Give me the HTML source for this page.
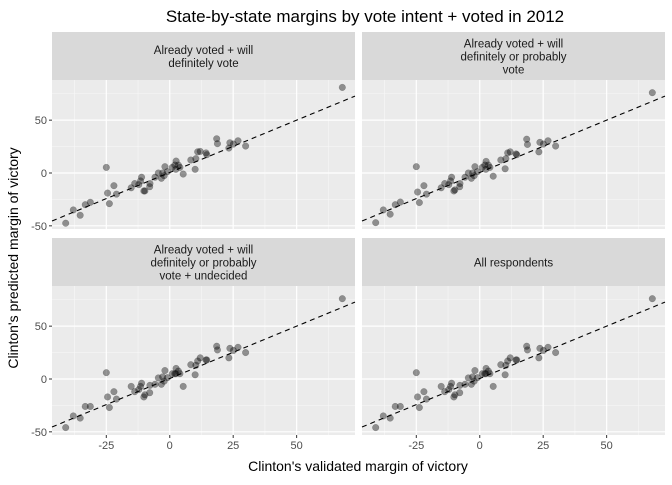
<!DOCTYPE html>
<html><head><meta charset="utf-8"><style>
body{margin:0;background:#fff;font-family:"Liberation Sans",sans-serif}
svg text{font-family:"Liberation Sans",sans-serif}
</style></head><body>
<svg id="c" width="672" height="480" xmlns="http://www.w3.org/2000/svg">
<text x="365" y="22" font-size="17" text-anchor="middle" fill="#000">State-by-state margins by vote intent + voted in 2012</text>
<text x="358" y="471" font-size="14" text-anchor="middle" fill="#000">Clinton's validated margin of victory</text>
<text transform="translate(18,258) rotate(-90)" font-size="14" text-anchor="middle" fill="#000">Clinton's predicted margin of victory</text>
</svg>
<script>
const xVals=[-41,-38,-35.3,-33.3,-31.3,-25,-24.5,-23.8,-22,-21,-15.2,-13.8,-12.2,-11.5,-11.1,-10.2,-9.8,-7.9,-7.8,-5.8,-4.5,-3.3,-2.8,-2.2,-1.9,-0.9,1,2,2.5,2.4,3.4,4,5.3,8.3,10,10.3,11,12,14.3,14.6,18.5,18.8,23.3,23.7,25.1,26.9,29.9,68];
const yDefinite=[-47.5,-35,-40,-30,-27.7,5.3,-19,-29,-12,-20,-14,-10,-11,-7.5,-4,-17,-17,-13,-10,-4,0,-5,0,-2.5,6,1.3,5.3,7.5,11.3,3.5,7.5,5.3,-1,12.3,3.5,13.5,20,20.4,19,17.3,32.4,27.7,23.6,28.6,27.4,30.5,25.5,81];
const yProbable=[-47,-35,-39,-30,-27.5,6,-18,-28,-12,-20,-14,-10,-11,-7.5,-4,-17,-16,-13,-10,-4,0,-5,0,-2.5,6,1.3,5.3,7.5,11,3.5,7.5,5.3,-3,12.3,4,13.5,19,20,18,17.3,32,27,20,29,27.4,30.5,25.5,76];
const yUndecided=[-46,-35,-37,-26,-26,6,-17,-27,-12,-19,-7,-12,-10,-7,-4,-17,-15,-13,-6,-5,1,-5,2,-2,8,1.3,5,5,10,5,7.5,5,-7,13.5,4,13,17,20,18,18,31,27.5,20,29,27,30,25,76];
const yAll=[-46,-35,-37,-26,-26,6,-17,-27,-12,-19,-7,-12,-10,-7,-4,-17,-15,-13,-6,-5,1,-5,2,-2,8,1.3,5,5,10,5,7.5,5,-7,13.5,4,13,17,20,18,18,31,27.5,20,29,27,30,25,76];
const xTicks=[-25,0,25,50];
const yTicks=[-50,0,50];
const xMinor=[-37.5,-12.5,12.5,37.5,62.5];
const yMinor=[-25,25,75];
const stripLabels=[["Already voted + will","definitely vote"],["Already voted + will","definitely or probably","vote"],["Already voted + will","definitely or probably","vote + undecided"],["All respondents"]];
const NS="http://www.w3.org/2000/svg";
const svg=document.getElementById('c');
function mk(t,a,p){const e=document.createElementNS(NS,t);for(const k in a)e.setAttribute(k,a[k]);(p||svg).appendChild(e);return e;}
const X0=-46.4,X1=73,Y0=-53,Y1=88;
const panels=[{l:52,r:355,st:32,t:80,b:229,ys:yDefinite,xl:false,yl:true},
{l:362,r:665,st:32,t:80,b:229,ys:yProbable,xl:false,yl:false},
{l:52,r:355,st:238,t:286,b:435,ys:yUndecided,xl:true,yl:true},
{l:362,r:665,st:238,t:286,b:435,ys:yAll,xl:true,yl:false}];
panels.forEach((p,i)=>{
  const g=mk('g',{});
  
  
  const sx=v=>p.l+(v-X0)/(X1-X0)*(p.r-p.l);
  const sy=v=>p.b-(v-Y0)/(Y1-Y0)*(p.b-p.t);
  const strip=mk('rect',{x:p.l,y:p.st,width:p.r-p.l,height:p.t-p.st,fill:'#d9d9d9'},g);
  
  
  const lines=stripLabels[i];const cy=(p.st+p.t)/2;
  lines.forEach((s,j)=>{const t=mk('text',{x:(p.l+p.r)/2,y:cy+(j-(lines.length-1)/2)*13+4.5,'font-size':'11.5','text-anchor':'middle',fill:'#1a1a1a'},g);t.textContent=s;
    
    });
  mk('rect',{x:p.l,y:p.t,width:p.r-p.l,height:p.b-p.t,fill:'#ebebeb'},g);
  xMinor.forEach(v=>mk('line',{x1:sx(v),x2:sx(v),y1:p.t,y2:p.b,stroke:'#f7f7f7','stroke-width':0.6},g));
  yMinor.forEach(v=>mk('line',{x1:p.l,x2:p.r,y1:sy(v),y2:sy(v),stroke:'#f7f7f7','stroke-width':0.6},g));
  xTicks.forEach(v=>{mk('line',{x1:sx(v),x2:sx(v),y1:p.t,y2:p.b,stroke:'#fff','stroke-width':1.2},g);
    if(p.xl){mk('line',{x1:sx(v),x2:sx(v),y1:p.b,y2:p.b+3,stroke:'#333'},g);
      const t=mk('text',{x:sx(v),y:p.b+14,'font-size':'11','text-anchor':'middle',fill:'#4d4d4d'},g);t.textContent=v;
      
      }});
  yTicks.forEach(v=>{mk('line',{x1:p.l,x2:p.r,y1:sy(v),y2:sy(v),stroke:'#fff','stroke-width':1.2},g);
    if(p.yl){mk('line',{x1:p.l-3,x2:p.l,y1:sy(v),y2:sy(v),stroke:'#333'},g);
      const t=mk('text',{x:p.l-5,y:sy(v)+4,'font-size':'11','text-anchor':'end',fill:'#4d4d4d'},g);t.textContent=v;
      
      }});
  xVals.forEach((xv,k)=>{const c=mk('circle',{cx:sx(xv),cy:sy(p.ys[k]),r:3.3,fill:'#000','fill-opacity':0.4,stroke:'#000','stroke-opacity':0.25,'stroke-width':0.5},g);
    
    });
  const ln=mk('line',{x1:sx(X0),y1:sy(X0*0.99+0.5),x2:sx(X1),y2:sy(X1*0.99+0.5),stroke:'#000','stroke-width':1.1,'stroke-dasharray':'5,4'},g);
  
  
});
</script>
</body></html>
